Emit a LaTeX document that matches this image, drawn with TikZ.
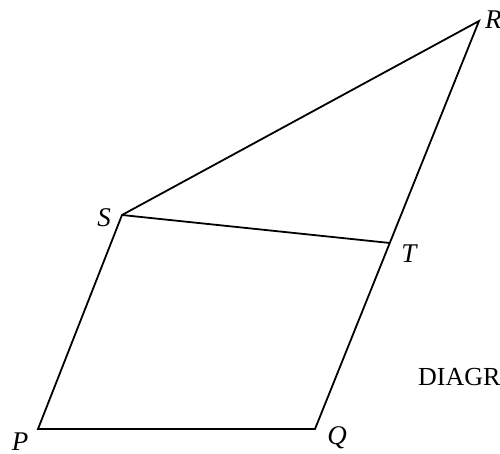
\documentclass[tikz,border=0pt]{standalone}
\usepackage{fontspec}
\setmainfont{Liberation Serif}
\begin{document}
\begin{tikzpicture}[x=1pt,y=-1pt,
  edge/.style={line width=1.8pt,line join=miter,line cap=butt},
  lbl/.style={font=\fontsize{27}{31}\selectfont\itshape,inner sep=0pt},
  captiontext/.style={font=\fontsize{26}{30}\selectfont,inner sep=0pt}]
\useasboundingbox (0,0) rectangle (500,453);
\coordinate (R) at (479,21);
\coordinate (S) at (122,215);
\coordinate (T) at (390,243);
\coordinate (P) at (38,429);
\coordinate (Q) at (315,429);
\draw[edge] (P) -- (Q) -- (R) -- (S) -- cycle;
\draw[edge] (S) -- (T);
\node[lbl,anchor=base west] (lR) at (485,28) {R};
\node[lbl,anchor=base] (lS) at (104,226) {S};
\node[lbl,anchor=base] (lT) at (409,262) {T};
\node[lbl,anchor=base] (lP) at (20,450) {P};
\node[lbl,anchor=base] (lQ) at (337,444) {Q};
\node[captiontext,anchor=base west] (dcap) at (418,385) {DIAGRAM};
\end{tikzpicture}
\end{document}
